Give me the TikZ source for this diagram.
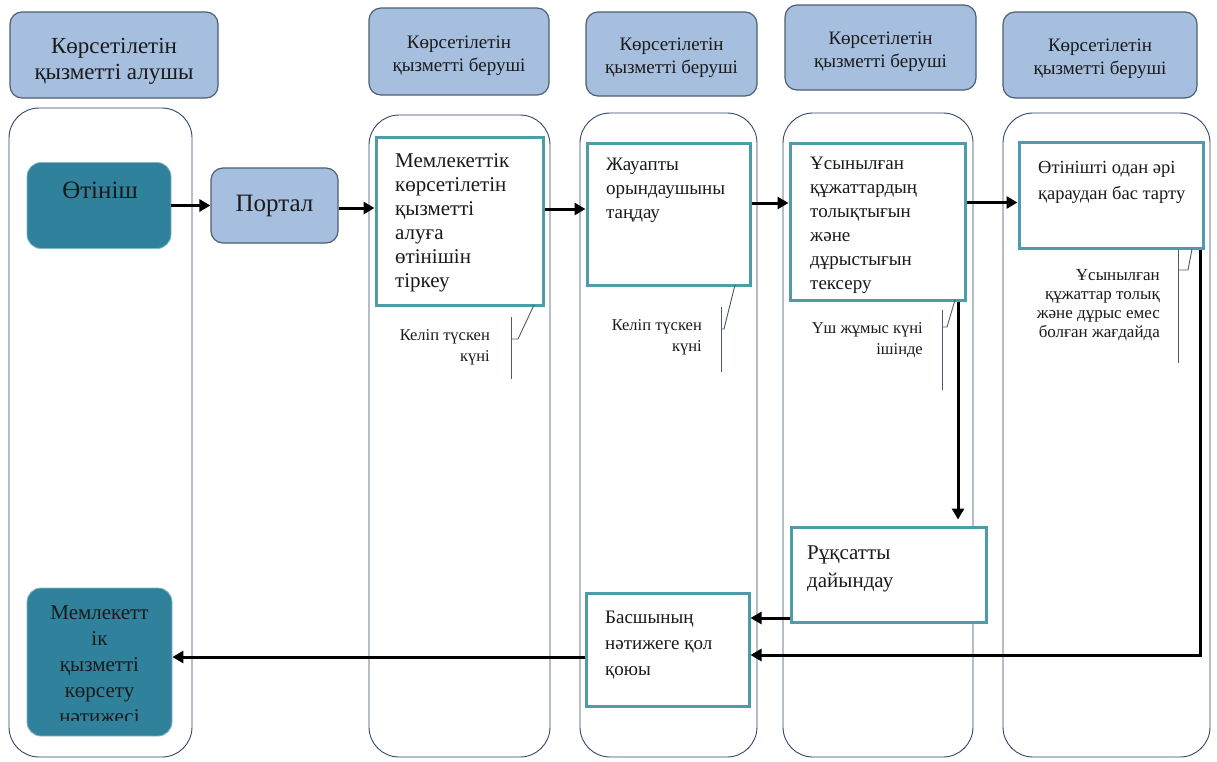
\documentclass[tikz,border=0pt]{standalone}
\usepackage{fontspec}
\setmainfont{Liberation Serif}
\usetikzlibrary{arrows.meta}
\definecolor{hdrfill}{HTML}{A7BFDE}
\definecolor{hdrdraw}{HTML}{4F5F72}
\definecolor{lanedraw}{HTML}{34466A}
\definecolor{tealfill}{HTML}{2F819C}
\definecolor{tealdraw}{HTML}{4E9BAA}
\definecolor{calldraw}{HTML}{505A66}
\definecolor{inktext}{HTML}{1A1A1A}
\newcommand{\fs}[2]{\fontsize{#1}{#2}\selectfont}
\begin{document}
\begin{tikzpicture}[x=1pt,y=-1pt,
  hdr/.style={draw=hdrdraw, fill=hdrfill, rounded corners=12pt, line width=1.2pt, inner sep=0pt},
  hdrtext/.style={align=center, inner sep=0pt, text=inktext, font={\fs{19}{23}}},
  lane/.style={draw=lanedraw, line width=0.9pt, rounded corners=30pt, inner sep=0pt},
  stepbox/.style={draw=tealdraw, line width=3pt, fill=white, inner sep=0pt},
  tealbox/.style={fill=tealfill, draw=tealdraw!70!white, line width=0.8pt, rounded corners=14pt, inner sep=0pt},
  bluebox/.style={fill=hdrfill, draw=hdrdraw, line width=1.2pt, rounded corners=12pt, inner sep=0pt},
  boxtext/.style={anchor=north west, align=left, inner sep=0pt, text=inktext},
  calltext/.style={anchor=east, align=right, inner sep=0pt, text=inktext, font={\fs{16.5}{21}}},
  flow/.style={line width=3pt, -{Triangle[length=11pt,width=12pt]}},
  callout/.style={draw=calldraw, line width=0.9pt}
]
\useasboundingbox (0,0) rectangle (1217,761);
\fill[white] (0,0) rectangle (1217,761);

% headers
\node[hdr, minimum width=208pt, minimum height=86pt] (h1) at (114,55) {};
\node[hdrtext, font={\fs{23}{26}}] (h1t) at ([yshift=-6pt]h1.center) {Көрсетілетін\\қызметті алушы};
\node[hdr, minimum width=180pt, minimum height=87pt] (h2) at (459,51.5) {};
\node[hdrtext] (h2t) at ([yshift=-4pt]h2.center) {Көрсетілетін\\қызметті беруші};
\node[hdr, minimum width=171pt, minimum height=84pt] (h3) at (671.5,54) {};
\node[hdrtext] (h3t) at ([yshift=-4pt]h3.center) {Көрсетілетін\\қызметті беруші};
\node[hdr, minimum width=191pt, minimum height=85pt] (h4) at (880.5,47.5) {};
\node[hdrtext] (h4t) at ([yshift=-4pt]h4.center) {Көрсетілетін\\қызметті беруші};
\node[hdr, minimum width=194pt, minimum height=86pt] (h5) at (1100,55) {};
\node[hdrtext] (h5t) at ([yshift=-4pt]h5.center) {Көрсетілетін\\қызметті беруші};

% lanes
\node[lane, minimum width=183pt, minimum height=649pt] (l1) at (100.5,432.5) {};
\node[lane, minimum width=181pt, minimum height=642pt] (l2) at (459.5,436) {};
\node[lane, minimum width=177pt, minimum height=644pt] (l3) at (668.5,435) {};
\node[lane, minimum width=190pt, minimum height=644pt] (l4) at (878,435) {};
\node[lane, minimum width=207pt, minimum height=644pt] (l5) at (1106.5,435) {};

% process nodes
\node[tealbox, minimum width=144pt, minimum height=86pt] (otinish) at (99,205.5) {};
\node[inner sep=0pt, text=inktext, font={\fs{25}{28}}] (otinisht) at (100,190) {Өтініш};

\node[bluebox, minimum width=127pt, minimum height=75pt, text=inktext, font={\fs{25}{28}}] (portal) at (274.5,205.5) {Портал};

\node[stepbox, minimum width=167pt, minimum height=168pt] (reg) at (459.5,221) {};
\node[boxtext, font={\fs{21}{24}}] (regt) at (395,153) {Мемлекеттік\\көрсетілетін\\қызметті\\алуға\\өтінішін\\тіркеу};

\node[stepbox, minimum width=163pt, minimum height=142pt] (zhauap) at (668.5,214) {};
\node[boxtext, font={\fs{19}{24}}] (zhauapt) at (606,158) {Жауапты\\орындаушыны\\таңдау};

\node[stepbox, minimum width=175pt, minimum height=157pt] (check) at (877.5,221.5) {};
\node[boxtext, font={\fs{19}{24}}] (checkt) at (810,157) {Ұсынылған\\құжаттардың\\толықтығын\\және\\дұрыстығын\\тексеру};

\node[stepbox, minimum width=184pt, minimum height=106pt] (refuse) at (1111,195.5) {};
\node[boxtext, font={\fs{18.5}{26}}] (refuset) at (1038,161) {Өтінішті одан әрі\\қараудан бас тарту};

\node[stepbox, minimum width=195pt, minimum height=95pt] (ruksat) at (888.5,574.5) {};
\node[boxtext, font={\fs{21}{28}}] (ruksatt) at (807,546) {Рұқсатты\\дайындау};

\node[stepbox, minimum width=163pt, minimum height=113pt] (bassh) at (667.5,649.5) {};
\node[boxtext, font={\fs{19}{26}}] (bassht) at (605,611) {Басшының\\нәтижеге қол\\қоюы};

\node[tealbox, minimum width=145pt, minimum height=148pt] (result) at (99.5,662) {};
\begin{scope}
\clip (27,588) rectangle (172,720);
\node[anchor=north, align=center, inner sep=0pt, text=inktext, font={\fs{21}{26}}] (resultt) at (99.5,606) {Мемлекетт\\ік\\қызметті\\көрсету\\нәтижесі};
\end{scope}

% callouts
\draw[callout] (534,305) -- (518,339) -- (511,339);
\draw[callout] (511,317) -- (511,379);
\node[calltext] (c1) at (490,347) {Келіп түскен\\күні};

\draw[callout] (735,285) -- (724,329) -- (721,329);
\draw[callout] (721,307) -- (721,372);
\node[calltext] (c2) at (702,337) {Келіп түскен\\күні};

\draw[callout] (955,300) -- (947,327) -- (942,327);
\draw[callout] (942,310) -- (942,390);
\node[calltext] (c3) at (923,340) {Үш жұмыс күні\\ішінде};

\draw[callout] (1192,249) -- (1188,270) -- (1178,270);
\draw[callout] (1178,250) -- (1178,363);
\node[calltext, font={\fs{17}{19}}] (c4) at (1160,305) {Ұсынылған\\құжаттар толық\\және дұрыс емес\\болған жағдайда};

% flow arrows
\draw[flow] (otinish.east) -- (otinish.east -| portal.west);
\coordinate (a2) at ([yshift=-2.5pt]portal.east);
\draw[flow] (a2) -- (a2 -| reg.west);
\coordinate (a3) at ([yshift=12pt]reg.east);
\draw[flow] (a3) -- (a3 -| zhauap.west);
\coordinate (a4) at ([yshift=11pt]zhauap.east);
\draw[flow] (a4) -- (a4 -| check.west);
\coordinate (a5) at ([yshift=19pt]check.east);
\draw[flow] (a5) -- (a5 -| refuse.west);
\coordinate (a6) at ([xshift=80.5pt]check.south);
\coordinate (a6e) at ([yshift=6pt]a6 |- ruksat.north);
\draw[flow] (a6) -- (a6e);
\coordinate (a7) at ([xshift=-4pt]refuse.south east);
\coordinate (a7e) at ([yshift=-5.5pt]bassh.east);
\draw[flow] (a7) |- (a7e);
\coordinate (a8) at ([yshift=-43.5pt]ruksat.west);
\draw[flow] (a8) -- (a8 -| bassh.east);
\coordinate (a9) at ([yshift=-7.5pt]bassh.west);
\draw[flow] (a9) -- (a9 -| result.east);
\end{tikzpicture}
\end{document}
